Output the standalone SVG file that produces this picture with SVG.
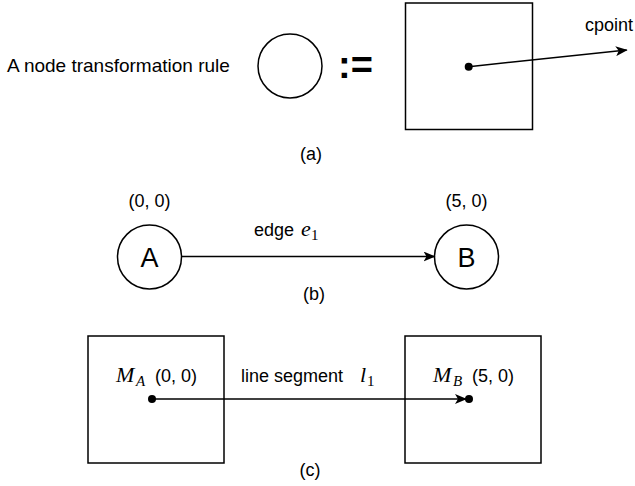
<svg xmlns="http://www.w3.org/2000/svg" width="635" height="486" viewBox="0 0 635 486">
<style>
.t{font-family:"Liberation Sans",Arial,sans-serif;font-size:18px;fill:#000}
.m{font-family:"Liberation Serif","Times New Roman",serif;font-style:italic;font-size:22px;fill:#000}
.s{font-family:"Liberation Serif","Times New Roman",serif;font-size:15px;fill:#000}
.si{font-family:"Liberation Serif","Times New Roman",serif;font-style:italic;font-size:15px;fill:#000}
.sh{fill:#fff;stroke:#000;stroke-width:1.5}
.ln{fill:none;stroke:#000;stroke-width:1.5}
</style>
<defs>
<marker id="ah" viewBox="0 0 12 10" refX="11" refY="5" markerWidth="12" markerHeight="10" markerUnits="userSpaceOnUse" orient="auto">
<path d="M0,0 L12,5 L0,10 L3,5 z" fill="#000"/>
</marker>
</defs>
<rect width="635" height="486" fill="#fff"/>
<g id="panel-a">
<text class="t" x="7" y="72" style="font-size:19px">A node transformation rule</text>
<g id="node-circle"><circle class="sh" cx="290" cy="66" r="32"/></g>
<text x="338" y="78" style="font-family:'Liberation Sans',Arial,sans-serif;font-size:38px;font-weight:bold">:=</text>
<g id="node-square"><rect class="sh" x="405.5" y="3" width="127" height="126.5"/></g>
<text class="t" x="585" y="31">cpoint</text>
<text class="t" x="311" y="160" text-anchor="middle">(a)</text>
</g>
<g id="panel-b">
<text class="t" x="149.5" y="207" text-anchor="middle">(0, 0)</text>
<text class="t" x="466.5" y="207" text-anchor="middle">(5, 0)</text>
<g id="node-A"><circle class="sh" cx="149.5" cy="257" r="32"/><text class="t" x="149.5" y="267" text-anchor="middle" style="font-size:27px">A</text></g>
<g id="node-B"><circle class="sh" cx="466.5" cy="257" r="32"/><text class="t" x="466.5" y="267" text-anchor="middle" style="font-size:27px">B</text></g>
<text class="t" x="254" y="236">edge</text>
<text class="m" x="301" y="236">e</text><text class="s" x="311" y="240">1</text>
<text class="t" x="314" y="300" text-anchor="middle">(b)</text>
</g>
<g id="panel-c">
<g id="node-MA"><rect class="sh" x="88" y="336" width="136" height="127"/></g>
<g id="node-MB"><rect class="sh" x="405" y="336" width="136" height="127"/></g>
<text class="m" x="116" y="382">M</text><text class="si" x="136" y="386">A</text>
<text class="t" x="155" y="382">(0, 0)</text>
<text class="t" x="241" y="382">line segment</text>
<text class="m" x="360" y="382">l</text><text class="s" x="367" y="386">1</text>
<text class="m" x="433" y="382">M</text><text class="si" x="453" y="386">B</text>
<text class="t" x="472" y="382">(5, 0)</text>
<text class="t" x="310" y="476" text-anchor="middle">(c)</text>
</g>
<g id="connectors">
<line class="ln" x1="468.7" y1="66.7" x2="626.7" y2="50" marker-end="url(#ah)"/>
<circle cx="468.7" cy="66.7" r="4" fill="#000"/>
<line class="ln" x1="181.5" y1="256.5" x2="434.5" y2="256.5" marker-end="url(#ah)"/>
<line class="ln" x1="152" y1="399" x2="466" y2="399" marker-end="url(#ah)"/>
<circle cx="152" cy="399" r="4" fill="#000"/>
<circle cx="469" cy="399" r="4" fill="#000"/>
</g>
</svg>
